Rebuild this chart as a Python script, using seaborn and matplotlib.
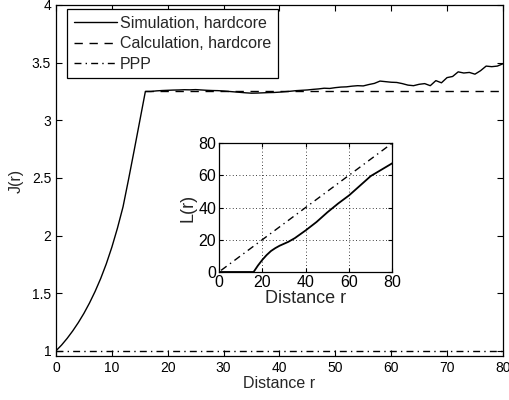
import matplotlib
matplotlib.use("Agg")
import matplotlib.pyplot as plt
import matplotlib.ticker as mticker
import seaborn as sns

# J(r): rising part (shared by simulation and calculation) up to the hardcore distance
r_rise = [0, 1, 2, 3, 4, 5, 6, 7, 8, 9, 10, 11, 12, 13, 14, 15, 16]
j_rise = [1.0, 1.05, 1.108, 1.173, 1.245, 1.325, 1.415, 1.515, 1.627, 1.754, 1.899,
          2.064, 2.249, 2.49, 2.74, 2.995, 3.25]

# simulated J(r) beyond r = 16
r_tail = list(range(17, 81))
j_sim_tail = [3.25, 3.255, 3.258, 3.26, 3.262, 3.263, 3.265, 3.264, 3.266, 3.263,
              3.26, 3.258, 3.257, 3.254, 3.25, 3.246, 3.242, 3.238, 3.235, 3.236,
              3.238, 3.24, 3.241, 3.244, 3.248, 3.252, 3.257, 3.26, 3.263, 3.268,
              3.272, 3.278, 3.276, 3.283, 3.288, 3.29, 3.296, 3.30, 3.298, 3.31,
              3.32, 3.34, 3.335, 3.33, 3.328, 3.318, 3.305, 3.30, 3.312, 3.318,
              3.30, 3.344, 3.325, 3.37, 3.38, 3.42, 3.41, 3.415, 3.40, 3.43,
              3.47, 3.465, 3.47, 3.49]

r_calc = [16, 80]
j_calc = [3.25, 3.25]

r_ppp = [0, 80]
j_ppp = [1.0, 1.0]

# inset L(r)
r_L = [0, 10, 16, 18, 20, 22, 24, 26, 28, 30, 32, 35, 40, 45, 50, 55, 60, 65, 70, 75, 80]
L_sim = [0, 0, 0, 4.0, 7.5, 10.5, 13.0, 14.8, 16.3, 17.5, 18.7, 21.0, 25.8, 31.0,
         37.0, 42.5, 47.5, 53.5, 59.5, 63.5, 67.5]
r_L_ppp = [1, 80]
L_ppp = [1, 80]

r_sim = r_rise + r_tail
j_sim = j_rise + j_sim_tail

sns.set_style("ticks")
plt.rcParams["font.family"] = ["Liberation Sans", "DejaVu Sans"]

fig = plt.figure(figsize=(5.09, 4.0), dpi=100)
ax = fig.add_axes([0.110, 0.11, 0.878, 0.8775])

dash = (6, 4.8)
dashdot = (5, 3, 1, 3)

sns.lineplot(x=r_sim, y=j_sim, ax=ax, color="black", lw=1.0,
             label="Simulation, hardcore", estimator=None, sort=False)
sns.lineplot(x=r_calc, y=j_calc, ax=ax, color="black", lw=1.0,
             label="Calculation, hardcore", estimator=None)
sns.lineplot(x=r_ppp, y=j_ppp, ax=ax, color="black", lw=1.0,
             label="PPP", estimator=None)
ax.lines[1].set_dashes(dash)
ax.lines[2].set_dashes(dashdot)

ax.set_xlim(0, 80)
ax.set_ylim(0.955, 4)
ax.set_xticks(range(0, 81, 10))
ax.set_yticks([1, 1.5, 2, 2.5, 3, 3.5, 4])
ax.yaxis.set_major_formatter(mticker.FormatStrFormatter("%g"))
ax.tick_params(direction="in", top=True, right=True, labelsize=10, length=4,
               width=0.8, colors="black")
for s in ax.spines.values():
    s.set_linewidth(0.9)
    s.set_color("black")
ax.set_xlabel("Distance r", fontsize=11.5, labelpad=1)
ax.set_ylabel("J(r)", fontsize=11.5, labelpad=6)

h, l = ax.get_legend_handles_labels()
leg = ax.legend(h, l, loc="upper left", bbox_to_anchor=(0.0246, 0.989),
                borderaxespad=0, fancybox=False, framealpha=1, edgecolor="black",
                fontsize=11.5, handlelength=2.7, handletextpad=0.2,
                labelspacing=0.35, borderpad=0.42)
leg.get_frame().set_linewidth(0.9)

# inset
ins = fig.add_axes([0.430, 0.32, 0.341, 0.3225])
sns.lineplot(x=r_L, y=L_sim, ax=ins, color="black", lw=1.3, estimator=None)
sns.lineplot(x=r_L_ppp, y=L_ppp, ax=ins, color="black", lw=1.0, estimator=None)
ins.lines[1].set_dashes(dashdot)
ins.set_xlim(0, 80)
ins.set_ylim(0, 80)
ins.set_xticks(range(0, 81, 20))
ins.set_yticks(range(0, 81, 20))
ins.grid(True, linestyle=(0, (1, 3)), color="black", lw=0.6)
ins.tick_params(direction="in", top=True, right=True, labelsize=11.5, length=3,
                width=0.8, colors="black", pad=2)
for s in ins.spines.values():
    s.set_linewidth(0.9)
    s.set_color("black")
ins.set_xlabel("Distance r", fontsize=13, labelpad=0)
ins.set_ylabel("L(r)", fontsize=13, labelpad=1)

fig.savefig("out.png", dpi=100)
